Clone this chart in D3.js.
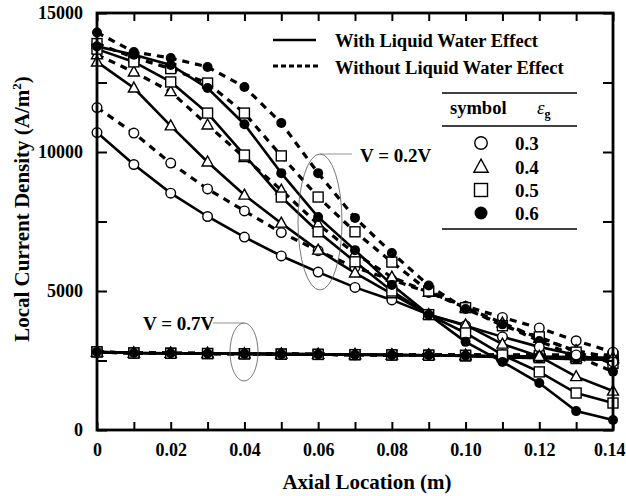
<!DOCTYPE html>
<html><head><meta charset="utf-8">
<script src="https://cdn.jsdelivr.net/npm/d3@7"></script>
<style>
html,body{margin:0;padding:0;background:#fff;}
svg{display:block;font-family:"Liberation Serif","Times New Roman",serif;font-weight:bold;}
</style></head>
<body><svg id="c" width="626" height="496"></svg>
<script>
// ---- data ----
const axial = [0,0.01,0.02,0.03,0.04,0.05,0.06,0.07,0.08,0.09,0.10,0.11,0.12,0.13,0.14];
const xTickLabels = ["0","0.02","0.04","0.06","0.08","0.10","0.12","0.14"];
const yTickLabels = ["0","5000","10000","15000"];
const epsValues = ["0.3","0.4","0.5","0.6"];
const symbolKinds = ["circle","triangle","square","filled"];

// V = 0.2 V, with liquid water effect (solid)
const v02With03 = [10700,9550,8520,7680,6940,6260,5680,5130,4680,4150,3750,3350,2990,2700,2450];
const v02With04 = [13240,12300,10940,9640,8450,7440,6470,5650,4900,4150,3780,3090,2650,1920,1400];
const v02With05 = [13700,13240,12520,11400,9890,8380,7130,6050,5000,4150,3490,2700,2090,1330,970];
const v02With06 = [13800,13500,13130,12300,11000,9240,7660,6470,5220,4150,3170,2450,1690,680,360];
// V = 0.2 V, without liquid water effect (dashed)
const v02Without03 = [11600,10680,9600,8670,7880,7100,6450,5850,5400,4950,4450,4050,3670,3210,2800];
const v02Without04 = [13500,12880,12170,10970,9800,8630,7400,6350,5500,4950,4400,3850,3300,2850,2600];
const v02Without05 = [13900,13400,13000,12480,11400,9860,8380,7130,6040,5000,4400,3750,3350,2800,2400];
const v02Without06 = [14300,13600,13380,13060,12340,11040,9240,7630,6370,5200,4350,3800,3200,2650,2100];
// V = 0.7 V
const v07With03 = [2800,2770,2760,2750,2740,2730,2720,2710,2700,2690,2680,2660,2640,2620,2600];
const v07With04 = [2800,2770,2760,2750,2740,2730,2720,2710,2700,2690,2670,2640,2610,2590,2560];
const v07With05 = [2810,2770,2760,2750,2740,2730,2720,2710,2700,2690,2660,2630,2600,2570,2540];
const v07With06 = [2810,2770,2760,2750,2740,2730,2720,2710,2700,2690,2660,2620,2580,2550,2520];
const v07Without03 = [2800,2770,2760,2750,2740,2730,2720,2710,2700,2700,2700,2700,2700,2700,2700];
const v07Without04 = [2800,2770,2760,2750,2740,2730,2720,2710,2700,2700,2690,2690,2680,2680,2670];
const v07Without05 = [2810,2770,2760,2750,2740,2730,2720,2710,2700,2690,2690,2680,2670,2660,2650];
const v07Without06 = [2810,2770,2760,2750,2740,2730,2720,2710,2700,2690,2680,2670,2650,2630,2610];

const series = [
  {v:v07With03,k:0,d:false},{v:v07With04,k:1,d:false},{v:v07With05,k:2,d:false},{v:v07With06,k:3,d:false},
  {v:v07Without03,k:0,d:true},{v:v07Without04,k:1,d:true},{v:v07Without05,k:2,d:true},{v:v07Without06,k:3,d:true},
  {v:v02Without03,k:0,d:true},{v:v02Without04,k:1,d:true},{v:v02Without05,k:2,d:true},{v:v02Without06,k:3,d:true},
  {v:v02With03,k:0,d:false},{v:v02With04,k:1,d:false},{v:v02With05,k:2,d:false},{v:v02With06,k:3,d:false}
];

// ---- chart ----
const svg = d3.select("#c");
const L=97, R=613, T=13, B=430;
const x = d3.scaleLinear().domain([0,0.14]).range([L,R]);
const y = d3.scaleLinear().domain([0,15000]).range([B,T]);

const line = d3.line().x((d,i)=>x(axial[i])).y(d=>y(d));
const plot = svg.append("g");

function drawSymbol(g, kind, cx, cy, s){
  s = s || 1;
  if(kind==="circle"){
    g.append("circle").attr("cx",cx).attr("cy",cy).attr("r",4.8*s).attr("fill","#fff").attr("stroke","#000").attr("stroke-width",1.4);
  } else if(kind==="filled"){
    g.append("circle").attr("cx",cx).attr("cy",cy).attr("r",5*s).attr("fill","#000");
  } else if(kind==="square"){
    g.append("rect").attr("x",cx-5*s).attr("y",cy-5*s).attr("width",10*s).attr("height",10*s).attr("fill","#fff").attr("stroke","#000").attr("stroke-width",1.4);
  } else {
    g.append("path").attr("d",`M${cx},${cy-6*s}L${cx+5.5*s},${cy+4*s}L${cx-5.5*s},${cy+4*s}Z`).attr("fill","#fff").attr("stroke","#000").attr("stroke-width",1.4);
  }
}

series.forEach(s=>{
  plot.append("path").datum(s.v).attr("d",line).attr("fill","none").attr("stroke","#000")
    .attr("stroke-width",s.d?3.2:2.6).attr("stroke-dasharray",s.d?"7,6":null);
});
series.forEach(s=>{
  const g = plot.append("g");
  s.v.forEach((v,i)=>drawSymbol(g, symbolKinds[s.k], x(axial[i]), y(v)));
});

// axes
const fmtX = d => { const i = xTickLabels.indexOf(d===0?"0":d.toFixed(2)); return i>=0?xTickLabels[i]:""; };
const fmtY = d => { const s = String(d); return yTickLabels.includes(s)?s:""; };
const ax = svg.append("g").attr("transform",`translate(0,${B})`)
  .call(d3.axisBottom(x).tickValues(axial).tickSize(-8).tickPadding(13).tickFormat(fmtX));
const axT = svg.append("g").attr("transform",`translate(0,${T})`)
  .call(d3.axisTop(x).tickValues(axial).tickSize(-8).tickFormat(()=>""));
const yTicks = [0,2500,5000,7500,10000,12500,15000];
const ay = svg.append("g").attr("transform",`translate(${L},0)`)
  .call(d3.axisLeft(y).tickValues(yTicks).tickSize(-10).tickPadding(14).tickFormat(fmtY));
const ayR = svg.append("g").attr("transform",`translate(${R},0)`)
  .call(d3.axisRight(y).tickValues(yTicks).tickSize(-10).tickFormat(()=>""));
[ax,axT,ay,ayR].forEach(g=>{
  g.select(".domain").remove();
  g.selectAll(".tick line").attr("stroke","#000").attr("stroke-width",2);
  g.selectAll("text").attr("font-family","Liberation Serif").attr("font-weight","bold").attr("font-size",18).attr("fill","#000");
});
// keep the last x label inside the window
ax.selectAll(".tick text").filter(d=>Math.abs(d-0.14)<1e-9).attr("text-anchor","end").attr("x",12);
svg.append("rect").attr("x",L).attr("y",T).attr("width",R-L).attr("height",B-T)
  .attr("fill","none").attr("stroke","#000").attr("stroke-width",2.8);

// titles
svg.append("text").attr("x",367).attr("y",489).attr("text-anchor","middle")
  .attr("font-size",21).text("Axial Location (m)");
const yt = svg.append("text").attr("transform","translate(29,209) rotate(-90)").attr("text-anchor","middle").attr("font-size",21);
yt.append("tspan").text("Local Current Density (A/m");
yt.append("tspan").attr("font-size",13).attr("dy",-8).text("2");
yt.append("tspan").attr("dy",8).text(")");

// legend lines
svg.append("line").attr("x1",273).attr("x2",316).attr("y1",40).attr("y2",40).attr("stroke","#000").attr("stroke-width",2.6);
svg.append("line").attr("x1",273).attr("x2",318).attr("y1",66).attr("y2",66).attr("stroke","#000").attr("stroke-width",3.2).attr("stroke-dasharray","5,3");
svg.append("text").attr("x",335).attr("y",47).attr("font-size",18.5).text("With Liquid Water Effect");
svg.append("text").attr("x",335).attr("y",74).attr("font-size",18.5).text("Without Liquid Water Effect");

// symbol table
svg.append("line").attr("x1",442).attr("x2",577).attr("y1",93).attr("y2",93).attr("stroke","#000").attr("stroke-width",1.5);
svg.append("line").attr("x1",442).attr("x2",577).attr("y1",126).attr("y2",126).attr("stroke","#000").attr("stroke-width",1.5);
svg.append("line").attr("x1",442).attr("x2",577).attr("y1",229).attr("y2",229).attr("stroke","#000").attr("stroke-width",1.5);
svg.append("text").attr("x",450).attr("y",114).attr("font-size",18.5).text("symbol");
const eg = svg.append("text").attr("x",537).attr("y",114).attr("font-size",19);
eg.append("tspan").attr("font-style","italic").attr("font-weight","normal").text("ε");
eg.append("tspan").attr("font-size",12).attr("dy",4).text("g");
const rowY = [143,167,190,213];
const lg = svg.append("g");
epsValues.forEach((e,i)=>{
  drawSymbol(lg, symbolKinds[i], 481, rowY[i], 1.3);
  lg.append("text").attr("x",515).attr("y",rowY[i]+7).attr("font-size",19).text(e);
});

// annotations
svg.append("ellipse").attr("cx",320).attr("cy",222).attr("rx",22).attr("ry",68).attr("fill","none").attr("stroke","#555").attr("stroke-width",0.8);
svg.append("line").attr("x1",320).attr("x2",352).attr("y1",154).attr("y2",154).attr("stroke","#777").attr("stroke-width",0.8);
svg.append("text").attr("x",360).attr("y",162).attr("font-size",19).text("V = 0.2V");
svg.append("ellipse").attr("cx",244).attr("cy",352).attr("rx",14).attr("ry",29).attr("fill","none").attr("stroke","#555").attr("stroke-width",0.8);
svg.append("line").attr("x1",213).attr("x2",244).attr("y1",323).attr("y2",323).attr("stroke","#777").attr("stroke-width",0.8);
svg.append("text").attr("x",143).attr("y",330).attr("font-size",19).text("V = 0.7V");
</script></body></html>
